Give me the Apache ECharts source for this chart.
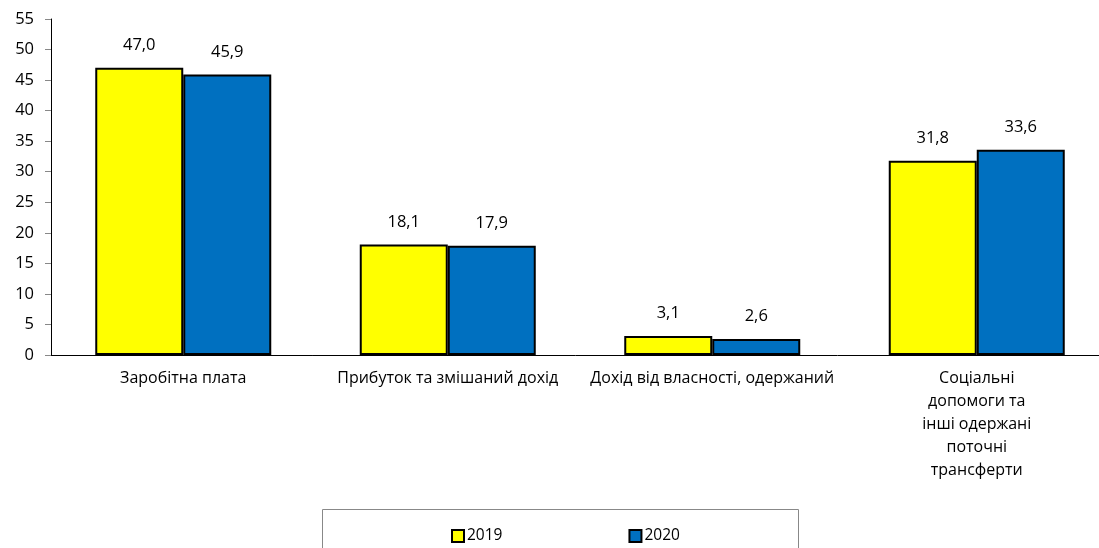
<!DOCTYPE html>
<html><head><meta charset="utf-8">
<script src="https://cdn.jsdelivr.net/npm/echarts@6/dist/echarts.min.js"></script>
<style>html,body{margin:0;padding:0;background:#fff}#c{width:1099px;height:548px}</style>
</head><body><div id="c"></div>
<script>
const categories = ["Заробітна плата", "Прибуток та змішаний дохід", "Дохід від власності, одержаний", "Соціальні\nдопомоги та\nінші одержані\nпоточні\nтрансферти"];
const seriesNames = ["2019", "2020"];
const values2019 = [47.0, 18.1, 3.1, 31.8];
const values2020 = [45.9, 17.9, 2.6, 33.6];
const colors = ["#FFFF00", "#0070C0"];
const FONT = "'Open Sans', 'Noto Sans', sans-serif";
const chart = echarts.init(document.getElementById('c'), null, {renderer: 'canvas'});
const mk = (name, data, color) => ({
  name, type: 'bar', data, barGap: '0%', barWidth: 88,
  itemStyle: {color, borderColor: '#000', borderWidth: 2},
  label: {show: true, position: 'top', distance: 14, fontFamily: FONT, fontSize: 16.5, color: '#000',
    formatter: p => p.value.toFixed(1).replace('.', ',')}
});
chart.setOption({
  animation: false,
  grid: {left: 51, top: 19, width: 1058, height: 336, containLabel: false, outerBoundsMode: 'none'},
  legend: {data: seriesNames, left: 446, top: 523, itemGap: 126, itemWidth: 12, itemHeight: 12,
    icon: 'rect', textStyle: {fontFamily: FONT, fontSize: 15.5, color: '#000', padding: [0,0,0,-2]}},
  graphic: [{type: 'rect', shape: {x: 322.5, y: 509.5, width: 476, height: 60}, style: {fill: 'none', stroke: '#888', lineWidth: 1}}],
  xAxis: {type: 'category', data: categories,
    axisLine: {lineStyle: {color: '#000', width: 1}}, axisTick: {show: false},
    axisLabel: {interval: 0, margin: 12, fontFamily: FONT, fontSize: 16, color: '#000', lineHeight: 23}},
  yAxis: {type: 'value', min: 0, max: 55, interval: 5,
    axisLine: {show: true, lineStyle: {color: '#000', width: 1}},
    axisTick: {show: true, length: 6, lineStyle: {color: '#888'}},
    splitLine: {show: false},
    axisLabel: {margin: 17, fontFamily: FONT, fontSize: 16.5, color: '#000'}},
  series: [mk(seriesNames[0], values2019, colors[0]), mk(seriesNames[1], values2020, colors[1])]
});
</script></body></html>
